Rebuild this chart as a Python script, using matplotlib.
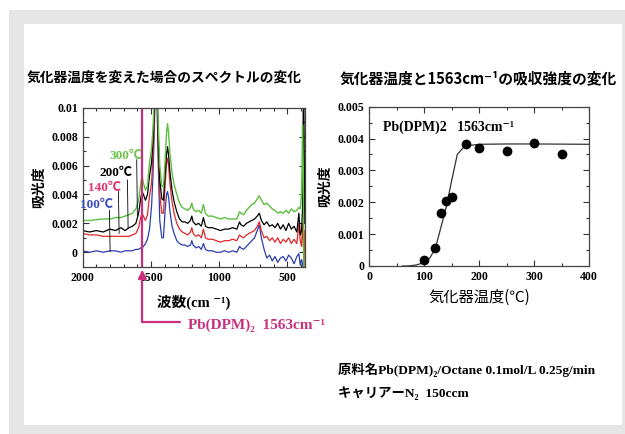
import matplotlib.pyplot as plt
from matplotlib.patches import Rectangle
from matplotlib.ticker import MultipleLocator

# --- spectra (wavenumber, absorbance) ---
wavenumber = [2000, 1950, 1900, 1850, 1800, 1760, 1720, 1690, 1660, 1635,
              1610, 1590, 1575, 1565, 1555, 1540, 1525, 1510, 1495, 1485,
              1475, 1467, 1462, 1456, 1448, 1435, 1420, 1408, 1395, 1385,
              1378, 1370, 1360, 1345, 1330, 1310, 1290, 1270, 1250, 1230,
              1210, 1200, 1190, 1170, 1150, 1130, 1115, 1100, 1080, 1050,
              1020, 990, 960, 930, 900, 870, 850, 840, 820, 800,
              780, 760, 740, 720, 705, 690, 670, 650, 630, 610,
              590, 570, 550, 530, 510, 490, 470, 450, 430, 415,
              405, 395, 388, 383, 378, 372]

abs_300 = [0.0022, 0.0022, 0.00225, 0.0023, 0.0023, 0.0024, 0.0024, 0.0025, 0.0026, 0.0027,
           0.0030, 0.0036, 0.0047, 0.0053, 0.0048, 0.0043, 0.0046, 0.0062, 0.0072, 0.0085,
           0.0105, 0.0130, 0.0135, 0.0125, 0.0095, 0.0060, 0.0046, 0.0045, 0.0065, 0.0083,
           0.0089, 0.0082, 0.0068, 0.0055, 0.0047, 0.0040, 0.0034, 0.0031, 0.0030, 0.0029,
           0.0031, 0.0034, 0.0030, 0.0028, 0.0029, 0.0027, 0.0033, 0.0027, 0.0025, 0.0025,
           0.0024, 0.0023, 0.0024, 0.0023, 0.0023, 0.0023, 0.0028, 0.0027, 0.0026, 0.0029,
           0.0031, 0.0033, 0.0034, 0.0037, 0.0039, 0.0036, 0.0033, 0.0034, 0.0032, 0.0030,
           0.0029, 0.0027, 0.0028, 0.0027, 0.0029, 0.0027, 0.0030, 0.0028, 0.0029, 0.0031,
           0.0030, 0.0040, 0.0088, 0.0060, -0.0012, -0.0015]

abs_200 = [0.0015, 0.0014, 0.0015, 0.0014, 0.0016, 0.0015, 0.0017, 0.0015, 0.0017, 0.0018,
           0.0020, 0.0027, 0.0037, 0.0042, 0.0040, 0.0036, 0.0040, 0.0053, 0.0062, 0.0076,
           0.0098, 0.0125, 0.0130, 0.0120, 0.0085, 0.0050, 0.0037, 0.0036, 0.0055, 0.0068,
           0.0073, 0.0067, 0.0055, 0.0043, 0.0035, 0.0028, 0.0023, 0.0021, 0.0021, 0.0020,
           0.0022, 0.0025, 0.0021, 0.0019, 0.0020, 0.0018, 0.0024, 0.0018, 0.0017, 0.0017,
           0.0016, 0.0015, 0.0016, 0.0016, 0.0017, 0.0016, 0.0021, 0.0019, 0.0018, 0.0020,
           0.0021, 0.0022, 0.0023, 0.0025, 0.0027, 0.0022, 0.0019, 0.0021, 0.0018, 0.0019,
           0.0017, 0.0020, 0.0016, 0.0019, 0.0015, 0.0020, 0.0016, 0.0018, 0.0014, 0.0027,
           0.0012, 0.0015, 0.0030, 0.0098, 0.0100, 0.0020]

abs_140 = [0.0013, 0.0012, 0.0012, 0.0011, 0.0011, 0.0011, 0.0011, 0.0011, 0.0011, 0.0012,
           0.0013, 0.0017, 0.0024, 0.0027, 0.0025, 0.0022, 0.0026, 0.0039, 0.0048, 0.0066,
           0.0092, 0.0120, 0.0125, 0.0115, 0.0078, 0.0040, 0.0027, 0.0027, 0.0047, 0.0062,
           0.0065, 0.0060, 0.0047, 0.0035, 0.0027, 0.0020, 0.0016, 0.0014, 0.0013, 0.0012,
           0.0014, 0.0017, 0.0013, 0.0011, 0.0012, 0.0010, 0.0016, 0.0010, 0.0009, 0.0009,
           0.0008, 0.0007, 0.0008, 0.0008, 0.0009, 0.0008, 0.0012, 0.0011, 0.0010, 0.0012,
           0.0013, 0.0014, 0.0015, 0.0018, 0.0021, 0.0015, 0.0010, 0.0011, 0.0008, 0.0010,
           0.0007, 0.0010, 0.0006, 0.0009, 0.0007, 0.0010, 0.0006, 0.0009, 0.0006, 0.0020,
           0.0008, 0.0004, 0.0020, 0.0010, -0.0010, 0.0015]

abs_100 = [0.0001, 0.0000, 0.0001, 0.0000, 0.0001, 0.0001, 0.0000, 0.0001, 0.0001, 0.0001,
           0.0002, 0.0002, 0.0003, 0.0003, 0.0004, 0.0006, 0.0009, 0.0016, 0.0032, 0.0052,
           0.0085, 0.0115, 0.0120, 0.0110, 0.0068, 0.0022, 0.0010, 0.0010, 0.0030, 0.0040,
           0.0042, 0.0038, 0.0028, 0.0018, 0.0013, 0.0008, 0.0006, 0.0005, 0.0005, 0.0004,
           0.0005, 0.0008, 0.0005, 0.0003, 0.0004, 0.0002, 0.0006, 0.0002, 0.0001, 0.0001,
           0.0000, 0.0000, 0.0001, 0.0000, 0.0001, 0.0000, 0.0004, 0.0003, 0.0002, 0.0004,
           0.0006, 0.0008, 0.0010, 0.0015, 0.0019, 0.0010, 0.0002, -0.0004, -0.0002, -0.0006,
           -0.0003, -0.0007, -0.0004, -0.0003, -0.0006, -0.0002, -0.0004, -0.0008, -0.0003, -0.0001,
           -0.0009, -0.0005, -0.0008, -0.0012, -0.0012, -0.0012]

spec_xticks = [2000, 1500, 1000, 500]
spec_yticks = [0, 0.002, 0.004, 0.006, 0.008, 0.01]
spec_yticklabels = ["0", "0.002", "0.004", "0.006", "0.008", "0.01"]

# --- vaporizer temperature vs absorbance at 1563 cm-1 ---
temp_pts = [100, 120, 130, 140, 150, 175, 200, 250, 300, 350]
abs_pts = [0.0002, 0.00058, 0.00167, 0.00204, 0.00218, 0.00382, 0.00371, 0.00361, 0.00385, 0.0035]
fit_temp = [60, 70, 85, 100, 110, 120, 130, 140, 150, 160, 170, 180, 200, 250, 300, 400]
fit_abs = [0, 0, 0.00003, 0.00011, 0.00025, 0.00055, 0.0012, 0.00186, 0.0027, 0.0035,
           0.0037, 0.00378, 0.00382, 0.00383, 0.00383, 0.00382]
temp_xticks = [0, 100, 200, 300, 400]
temp_yticks = [0, 0.001, 0.002, 0.003, 0.004, 0.005]
temp_yticklabels = ["0", "0.001", "0.002", "0.003", "0.004", "0.005"]

JP = ["Noto Sans CJK JP", "DejaVu Sans"]
SERIF = ["Liberation Serif", "Noto Sans CJK JP", "DejaVu Serif"]
MAGENTA = "#c8307c"

fig = plt.figure(figsize=(6.25, 4.34), dpi=100)
fig.patches.append(Rectangle((9 / 625, 0), 616 / 625, 424 / 434, transform=fig.transFigure,
                             facecolor="#e6e6e6", edgecolor="none", zorder=-2))
fig.patches.append(Rectangle((24 / 625, 9 / 434), 598 / 625, 401 / 434, transform=fig.transFigure,
                             facecolor="white", edgecolor="none", zorder=-1))


def style_axes(ax):
    ax.tick_params(which="both", direction="in", top=True, right=True, colors="#333333",
                   labelcolor="black", width=0.8)
    ax.tick_params(which="major", length=4)
    ax.tick_params(which="minor", length=2)
    for s in ax.spines.values():
        s.set_linewidth(0.9)
        s.set_color("#444444")
    for lab in ax.get_xticklabels() + ax.get_yticklabels():
        lab.set_fontfamily(SERIF)
        lab.set_fontweight("bold")
        lab.set_fontsize(8.5)


# left: spectra
ax1 = fig.add_axes([82.7 / 625, 1 - 266.7 / 434, 222.3 / 625, 159 / 434])
ax1.plot(wavenumber, abs_100, color="#2a3db0", lw=0.9)
ax1.plot(wavenumber, abs_140, color="#e02828", lw=0.9)
ax1.plot(wavenumber, abs_200, color="black", lw=0.9)
ax1.plot(wavenumber, abs_300, color="#5cc040", lw=1.0)
ax1.axvline(1563, color=MAGENTA, lw=1.6)
ax1.set_xlim(2000, 370)
ax1.set_ylim(-0.001, 0.01)
ax1.set_xticks(spec_xticks)
ax1.set_xticklabels([str(v) for v in spec_xticks])
ax1.xaxis.set_minor_locator(MultipleLocator(100))
ax1.set_yticks(spec_yticks)
ax1.set_yticklabels(spec_yticklabels)
ax1.yaxis.set_minor_locator(MultipleLocator(0.001))
style_axes(ax1)
ax1.set_ylabel("吸光度", family=JP, fontweight="bold", fontsize=10, labelpad=4)
ax1.set_xlabel("波数(cm ⁻¹)", family=SERIF, fontweight="bold", fontsize=10.5, labelpad=8)

labels = [("300℃", "#6cc24a", 1682, 0.00668, 1604, 0.0064, 0.00247),
          ("200℃", "black", 1758, 0.0055, 1672, 0.0050, 0.00166),
          ("140℃", "#e0336b", 1839, 0.00447, 1738, 0.0042, 0.0013),
          ("100℃", "#3a4cc0", 1897, 0.00327, 1804, 0.0029, 0.00005)]
for txt, col, tx, ty, lx, ly0, ly1 in labels:
    ax1.text(tx, ty, txt, color=col, family=SERIF, fontweight="bold", fontsize=9.5,
             ha="center", va="center")
    ax1.plot([lx, lx - 5], [ly0, ly1], color="black", lw=0.6)

ax1.annotate("", xy=(1563, -0.02), xycoords=ax1.get_xaxis_transform(),
             xytext=(1286, -0.348), textcoords=ax1.get_xaxis_transform(),
             arrowprops=dict(arrowstyle="-|>", color=MAGENTA, lw=1.6, mutation_scale=12,
                             shrinkA=0, shrinkB=0,
                             connectionstyle="angle,angleA=0,angleB=90,rad=0"))
ax1.text(1227, -0.367, "Pb(DPM)₂  1563cm⁻¹", transform=ax1.get_xaxis_transform(),
         color=MAGENTA, family=SERIF, fontweight="bold", fontsize=11, ha="left", va="center")

# right: absorbance vs temperature
ax2 = fig.add_axes([369.3 / 625, 1 - 266 / 434, 220 / 625, 159.3 / 434])
ax2.plot(fit_temp, fit_abs, color="#333333", lw=0.9)
ax2.plot(temp_pts, abs_pts, "o", color="black", ms=6)
ax2.set_xlim(0, 400)
ax2.set_ylim(0, 0.005)
ax2.set_xticks(temp_xticks)
ax2.set_xticklabels([str(v) for v in temp_xticks])
ax2.xaxis.set_minor_locator(MultipleLocator(50))
ax2.set_yticks(temp_yticks)
ax2.set_yticklabels(temp_yticklabels)
ax2.yaxis.set_minor_locator(MultipleLocator(0.0005))
style_axes(ax2)
ax2.set_ylabel("吸光度", family=JP, fontweight="bold", fontsize=10, labelpad=4)
ax2.set_xlabel("気化器温度(℃)", family=JP, fontsize=11, labelpad=4)
ax2.text(0.06, 0.87, "Pb(DPM)2   1563cm⁻¹", transform=ax2.transAxes, family=SERIF,
         fontweight="bold", fontsize=10, ha="left", va="center")

# titles and notes
fig.text(27 / 625, 1 - 78 / 434, "気化器温度を変えた場合のスペクトルの変化", family=JP,
         fontweight="bold", fontsize=9.9, ha="left", va="center")
fig.text(340 / 625, 1 - 78 / 434, "気化器温度と1563cm⁻¹の吸収強度の変化", family=JP,
         fontweight="bold", fontsize=10.6, ha="left", va="center")
fig.text(338 / 625, 1 - 370 / 434, "原料名Pb(DPM)₂/Octane 0.1mol/L 0.25g/min", family=SERIF,
         fontweight="bold", fontsize=9.6, ha="left", va="center")
fig.text(338 / 625, 1 - 393 / 434, "キャリアーN₂  150ccm", family=SERIF,
         fontweight="bold", fontsize=9.6, ha="left", va="center")

fig.savefig("out.png", dpi=100)
